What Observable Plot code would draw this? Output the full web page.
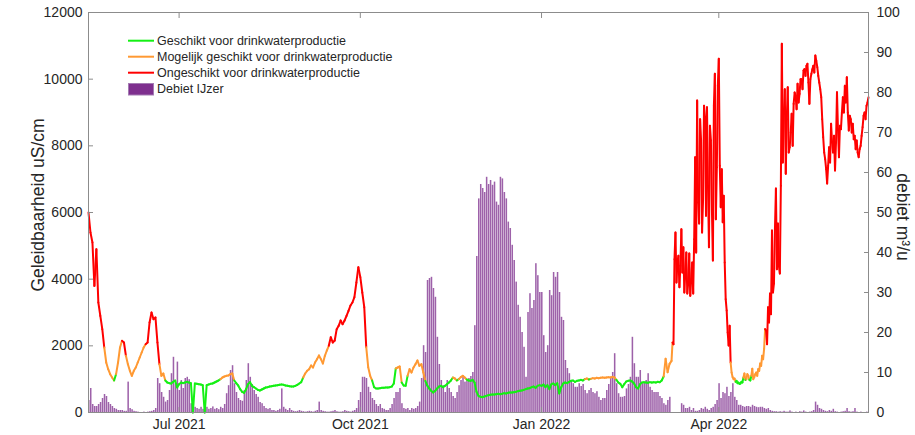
<!DOCTYPE html>
<html>
<head>
<meta charset="utf-8">
<script src="https://cdn.jsdelivr.net/npm/d3@7"></script>
<script src="https://cdn.jsdelivr.net/npm/@observablehq/plot@0.6"></script>
<style>
html,body{margin:0;padding:0;background:#fff;}
#chart svg{display:block;}
</style>
</head>
<body>
<div id="chart"></div>
<script>
// ---- data ----
const startDate = "2021-05-16";
const endDate = "2022-06-16";

// Geleidbaarheid (uS/cm), one value per day from startDate (until 2022-03-07)
const conductivity = [
6000,5400,5100,3800,4900,3300,2900,2500,1950,1500,
1300,1150,1050,960,1150,1500,1950,2150,2100,1700,
1450,1250,1100,1250,1350,1500,1650,1800,1950,2050,
2100,2700,3000,2800,2850,2100,1450,1100,1170,960,
900,880,870,920,960,750,850,900,880,900,
920,900,880,0,870,860,850,840,820,0,
820,840,860,870,900,930,960,1000,1050,1080,
1100,1110,1150,1170,960,880,810,700,620,590,
700,850,910,800,760,720,680,660,690,720,
750,760,780,790,800,810,820,830,840,830,
810,800,790,780,780,800,830,870,910,1050,
1170,1250,1300,1410,1350,1500,1600,1710,1600,1470,
1700,1860,2000,2260,2100,2160,2500,2600,2760,2650,
2760,2900,3050,3210,3300,3460,3900,4360,4060,3600,
3160,1960,1360,1100,960,760,720,720,730,740,
740,750,750,760,780,870,1320,1350,1380,900,
810,800,1100,1300,1200,1350,1450,1560,1400,1450,
1200,950,810,720,650,600,650,720,780,800,
760,800,850,900,960,1050,1020,960,1000,1060,
1100,1050,990,960,950,980,900,620,500,470,
460,480,500,520,530,540,540,550,560,550,
560,580,570,590,600,600,610,620,640,650,
660,680,700,720,730,760,780,740,800,820,
800,840,760,820,700,850,870,820,880,570,
760,870,900,880,920,950,960,920,950,960,
980,960,1000,1020,990,1010,1030,1020,1040,1030,
1040,1050,1040,1050,1060,1050,1070,1050,980,900,
860,760,850,930,950,960,930,870,760,720,
850,900,910,900,890,910,900,910,900,920,
910,960,1080,1610,1210,1460
];

// Geleidbaarheid (uS/cm), two values per day (every 12 h) from lateStart
const lateStart = "2022-03-08";
const conductivityLate = [
1550,2100, 2050,4600, 5400,3900, 4500,4700, 3760,4400,
5500,4200, 4960,3600, 4200,4800, 3570,3900, 4770,3500,
4000,4500, 3570,5200, 7660,4800, 9360,6300, 5670,8800,
8160,5400, 6360,9200, 8860,5900, 9160,6800, 4960,8600,
8160,6100, 4560,9200, 10160,5800, 7360,9800, 10610,7400,
6160,7300, 5710,6500, 4500,3400, 3060,2400, 2010,2600,
1500,1200, 1060,1000, 1020,920, 950,880, 900,860,
870,920, 900,1050, 1170,980, 1000,1150, 1100,980,
960,1100, 1310,1000, 1060,1150, 1200,1100, 1300,1250,
1470,1400, 1700,1600, 1910,2500, 2460,2050, 3160,2700,
3570,2950, 5460,3600, 3870,5500, 6720,4300, 5670,4400,
4170,6800, 11060,7500, 8960,9700, 7160,8800, 9760,7800,
7960,8400, 8960,8000, 9260,9600, 9500,9100, 9860,9300,
9560,10000, 10000,9700, 10260,10300, 10100,10400, 10460,9900,
9260,10000, 10160,10300, 10400,10200, 10710,10550, 10360,10100,
9900,9700, 9460,8800, 8260,7800, 7600,7300, 6870,7400,
7960,7500, 8660,8100, 7800,8300, 7260,8100, 9610,8500,
7660,8600, 8500,9000, 9460,9000, 9800,9300, 10060,9000,
8460,8900, 8800,8400, 8660,8200, 8300,7900, 8160,7800,
7660,7900, 8000,8300, 8560,8900, 9000,8800, 9200,9300,
9460
];

// Debiet IJzer (m3/u), one value per day from startDate
const debiet = [
3,6,2,1.5,1.5,2,2.5,3.5,4.5,4,
2.5,2,1.5,1,0.8,0.5,0.5,0.5,0.3,0.3,
7.6,1,0.7,0.3,0.2,0.1,0,0,0.1,0,
0.1,0.2,0.3,0.5,1,8.5,7.2,5,3.8,2.6,
3,5.5,9.7,13.8,7.2,12.6,5.5,8,6,8.5,
8.8,8.2,2.2,1.5,1.3,1,0.8,1.3,0.8,1.2,
1.3,0.8,1,1.4,0.8,1,0.7,1.3,1,2,
4.7,6.7,10.5,11.7,7.2,5,3.5,3,2.8,5.5,
8,12.2,8.8,7,5.5,4.5,3.8,2.5,2.2,1.5,
1,0.8,1,0.5,0.5,0.3,0.5,0.8,5.9,1.3,
0.8,0.5,1,0.5,0.3,0.2,0.3,0.5,0.3,0.2,
0.1,0.2,0.3,0.2,0.1,0.3,0.5,2.6,0.5,0.3,
0.2,0.1,0.1,0.2,0.3,0.5,0.2,0.1,0.1,0.2,
0.5,0.3,0.2,0.1,0.3,0.5,1,3,5,8.8,
8.8,8.5,6.3,5,3.5,3,2,1.5,2,1,
0.8,0.5,0.5,1,2,3.5,5,5,6,2.2,
1,0.8,1,0.5,1,0.8,1,1.5,2.6,8.5,
16.7,15,33,33.5,33.8,31,28.8,18.8,12,8,
6.7,5,8,6,5,4,3.5,5,6.7,8,
9.2,7.6,8,8.5,9,10,21.7,39,53.4,57,
56,55,58.8,57,58,56.8,57.6,52.6,51.8,58.8,
58.4,55,53.4,47.6,46,41.8,38,32.6,26.8,23.8,
20,16.3,8.8,25,29.7,26,28,37.2,34.2,30,
30,19.2,15,16.7,30.5,29.2,35,33.8,35,30,
23.8,23,13,11,9.7,8,7.2,6.3,6.3,7.2,
6.5,7,5.5,4.7,5.5,6,5,4.7,5.2,3.8,
3,3.5,3.5,5.5,7,8.8,10,14.7,7.2,4.7,
3.8,3.8,4,5.9,7,8.8,18.8,12.2,8.8,8.8,
10.5,7.2,7.5,8,9.7,6.3,5.5,5,5,5,
4,3.5,2.2,1.8,3,3.8,0,0,0,0,
0,2.2,1.8,1,1,1.3,0.5,1,0.3,0.3,
0.5,1,0.8,1.3,0.8,0.5,1,1.3,2,3,
7.2,3.5,5,4.7,6.3,4,5,7.2,3.8,3,
1.8,1.8,1.5,1.3,1.5,1.5,1.3,1.8,1.5,1.3,
1.2,1.3,1.3,1,0.8,1,0.5,0.3,0.2,0.2,
0.1,0.2,0.1,0.3,0.1,0.1,0.4,0.1,0,0.1,
0,0.2,0.1,0.4,0.1,0,0.1,0.2,0.5,2.6,
1.8,1,0.8,0.5,0.3,0.2,0.5,0.3,0.8,0.2,
0.1,0,0.1,0.2,0.3,1,0.2,0.1,0.2,1,
0.1,0,0.1,0,0,0.1,0
];

// quality classes (uS/cm thresholds) and their names / colours
const classThresholds = [1000, 2000];
const classNames = ["Geschikt voor drinkwaterproductie", "Mogelijk geschikt voor drinkwaterproductie", "Ongeschikt voor drinkwaterproductie"];
const classColors = ["#14f014", "#ff9933", "#ff0000"];
const barName = "Debiet IJzer";
const barColor = "#7E2F8E";

// axes
const leftTicks = [0, 2000, 4000, 6000, 8000, 10000, 12000];
const rightTicks = [0, 10, 20, 30, 40, 50, 60, 70, 80, 90, 100];
const xTickDates = ["2021-07-01", "2021-10-01", "2022-01-01", "2022-04-01"];
const xTickLabels = ["Jul 2021", "Oct 2021", "Jan 2022", "Apr 2022"];
const leftLabel = "Geleidbaarheid uS/cm";
const rightLabel = "debiet m³/u";
const leftMax = 12000, rightMax = 100;

// ---- derived tables ----
const utc = s => new Date(s + "T00:00:00Z");
const day0 = utc(startDate);
const late0 = utc(lateStart);
const dayAt = i => d3.utcDay.offset(day0, i);
const halfDayAt = i => d3.utcHour.offset(late0, 12 * i);
const ratio = leftMax / rightMax;
const classOf = v => classNames[d3.bisectRight(classThresholds, v)];

const condRows = conductivity.map((v, i) => ({date: dayAt(i), v}))
  .concat(conductivityLate.map((v, i) => ({date: halfDayAt(i), v})));
const segments = d3.pairs(condRows).map(([a, b]) => ({x1: a.date, y1: a.v, x2: b.date, y2: b.v, c: classOf(a.v)}));
const barRows = debiet.map((v, i) => ({x1: dayAt(i), x2: dayAt(i + 1), y: v * ratio})).filter(d => d.y > 0);
const xTicks = xTickDates.map(utc);
const xLabelOf = new Map(xTicks.map((d, i) => [+d, xTickLabels[i]]));

const axisGray = "#8c8c8c";
const textColor = "#262626";

const chart = Plot.plot({
  width: 915,
  height: 435,
  marginLeft: 88,
  marginRight: 47,
  marginTop: 12,
  marginBottom: 23,
  style: {fontFamily: "'Liberation Sans', Arial, Helvetica, sans-serif", fontSize: "14px", background: "#fff", overflow: "visible"},
  x: {type: "utc", domain: [utc(startDate), utc(endDate)]},
  y: {domain: [0, leftMax]},
  color: {domain: classNames, range: classColors},
  marks: [
    Plot.rectY(barRows, {x1: "x1", x2: "x2", y: "y", fill: barColor, fillOpacity: 0.76, insetRight: 0.45}),
    Plot.link(segments, {x1: "x1", y1: "y1", x2: "x2", y2: "y2", stroke: "c", strokeWidth: 2, strokeLinecap: "round"}),
    Plot.frame({stroke: axisGray}),
    Plot.axisY(leftTicks, {anchor: "left", tickSize: -5, tickPadding: 11, stroke: axisGray, fill: textColor, label: null, tickFormat: d => String(d)}),
    Plot.axisY(rightTicks.map(t => t * ratio), {anchor: "right", tickSize: -5, tickPadding: 13, stroke: axisGray, fill: textColor, label: null, tickFormat: d => String(Math.round(d / ratio))}),
    Plot.axisX(xTicks, {anchor: "bottom", tickSize: -5, tickPadding: 12, stroke: axisGray, fill: textColor, label: null, tickFormat: d => xLabelOf.get(+d)}),
    Plot.axisX(xTicks, {anchor: "top", tickSize: -5, tickPadding: 0, stroke: axisGray, label: null, tickFormat: () => ""})
  ]
});

const svg = d3.select(chart);
const font = "'Liberation Sans', Arial, Helvetica, sans-serif";

// axis titles
svg.append("text")
  .attr("transform", "translate(44,205) rotate(-90)")
  .attr("text-anchor", "middle")
  .attr("font-family", font).attr("font-size", 17.5).attr("fill", textColor)
  .text(leftLabel);
svg.append("text")
  .attr("transform", "translate(897,217) rotate(90)")
  .attr("text-anchor", "middle")
  .attr("font-family", font).attr("font-size", 17.5).attr("fill", textColor)
  .text(rightLabel);

// legend
const lg = svg.append("g").attr("font-family", font).attr("font-size", 12.5)
  .attr("fill", textColor).attr("text-anchor", "start");
classNames.forEach((name, i) => {
  const y = 40.7 + 16 * i;
  lg.append("line").attr("x1", 128).attr("x2", 154).attr("y1", y).attr("y2", y)
    .attr("stroke", classColors[i]).attr("stroke-width", 2);
  lg.append("text").attr("x", 157).attr("y", y + 4.5).attr("text-anchor", "start").text(name);
});
lg.append("rect").attr("x", 128.5).attr("y", 83.5).attr("width", 25).attr("height", 11.5)
  .attr("fill", barColor).attr("stroke", "#a47bb3").attr("stroke-width", 1);
lg.append("text").attr("x", 157).attr("y", 88.7 + 4.5).attr("text-anchor", "start").text(barName);

document.getElementById("chart").append(chart);
</script>
</body>
</html>
